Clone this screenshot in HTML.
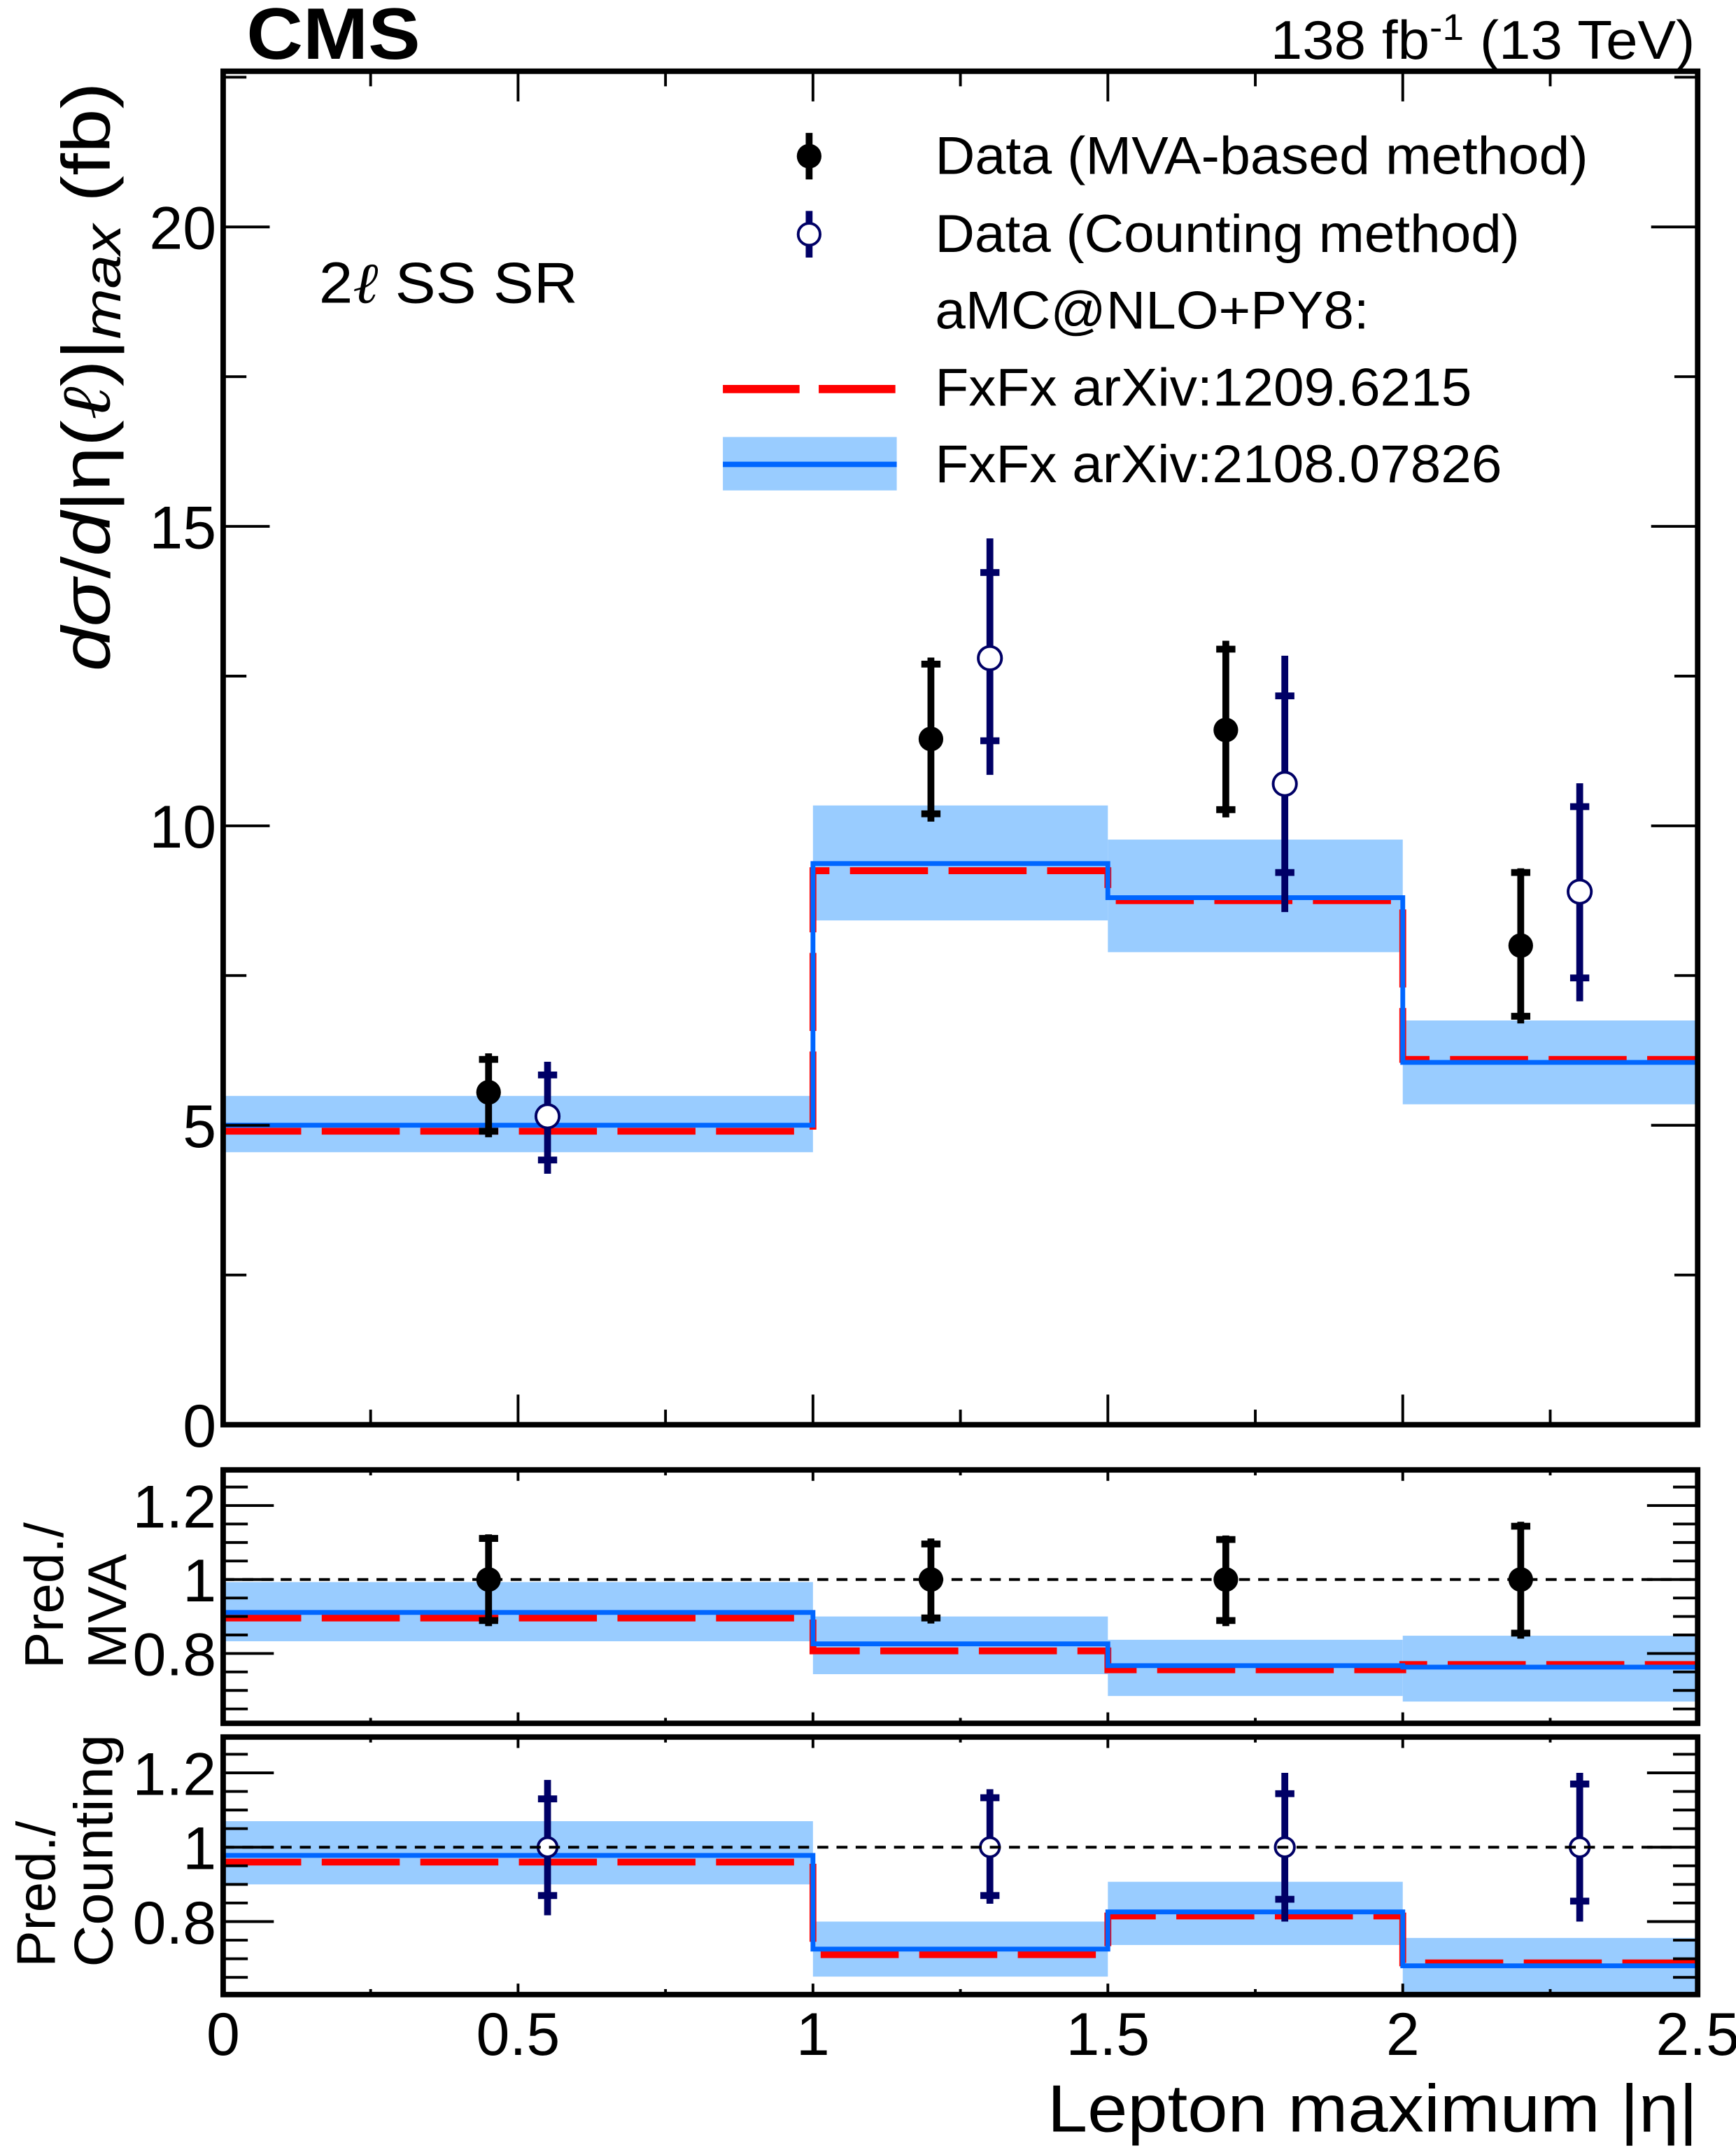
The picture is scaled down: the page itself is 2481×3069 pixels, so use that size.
<!DOCTYPE html>
<html><head><meta charset="utf-8"><style>
html,body{margin:0;padding:0;background:#fff;}
svg{display:block;font-family:"Liberation Sans",Arial,sans-serif;}
</style></head><body>
<svg id="chart" xmlns="http://www.w3.org/2000/svg" width="2481" height="3069" viewBox="0 0 1268 1568" preserveAspectRatio="none">
<g id="bands"></g>
<g id="lines"></g>
<g id="points"></g>
<g id="axes"></g>
<g id="labels">
<text x="180" y="43" font-size="53" font-weight="bold" textLength="127" lengthAdjust="spacingAndGlyphs">CMS</text>
<text x="928" y="43" font-size="40" textLength="310" lengthAdjust="spacingAndGlyphs">138 fb<tspan dy="-14" font-size="27">-1</tspan><tspan dy="14"> (13 TeV)</tspan></text>
<text x="233" y="221" font-size="42" textLength="189" lengthAdjust="spacingAndGlyphs">2<tspan font-family="'DejaVu Serif',serif" font-style="italic">ℓ</tspan> SS SR</text>
<text transform="translate(80,490) rotate(-90)" font-size="50" textLength="430" lengthAdjust="spacingAndGlyphs"><tspan font-style="italic">dσ</tspan>/<tspan font-style="italic">d</tspan>|η(<tspan font-family="'DejaVu Serif',serif" font-style="italic">ℓ</tspan>)|<tspan font-style="italic" font-size="38" dy="8">max</tspan><tspan dy="-8"> (fb)</tspan></text>
<text transform="translate(46,1218) rotate(-90)" font-size="40">Pred./</text>
<text transform="translate(92,1218) rotate(-90)" font-size="40">MVA</text>
<text transform="translate(40,1436) rotate(-90)" font-size="40">Pred./</text>
<text transform="translate(82,1436) rotate(-90)" font-size="40" textLength="170" lengthAdjust="spacingAndGlyphs">Counting</text>
<text x="765" y="1556" font-size="49" textLength="475" lengthAdjust="spacingAndGlyphs">Lepton maximum |η|</text>
</g>
<g id="legend">
<g>
<line x1="591" y1="97" x2="591" y2="131" stroke="#000" stroke-width="5"/><circle cx="591" cy="114" r="9" fill="#000"/>
<text x="683" y="127" font-size="39" textLength="477" lengthAdjust="spacingAndGlyphs">Data (MVA-based method)</text></g>
<g>
<line x1="591" y1="154" x2="591" y2="188" stroke="#000066" stroke-width="5"/><circle cx="591" cy="171" r="8" fill="#fff" stroke="#000066" stroke-width="2"/>
<text x="683" y="184" font-size="39" textLength="427" lengthAdjust="spacingAndGlyphs">Data (Counting method)</text></g>
<text x="683" y="240" font-size="39" textLength="317" lengthAdjust="spacingAndGlyphs">aMC@NLO+PY8:</text>
<g>
<line x1="528" y1="284" x2="655" y2="284" stroke="#ff0000" stroke-width="6" stroke-dasharray="56,14"/>
<text x="683" y="296" font-size="39" textLength="392" lengthAdjust="spacingAndGlyphs">FxFx arXiv:1209.6215</text></g>
<g>
<rect x="528" y="319" width="127" height="39" fill="#99ccff"/><line x1="528" y1="339" x2="655" y2="339" stroke="#0066ff" stroke-width="4"/>
<text x="683" y="352" font-size="39" textLength="414" lengthAdjust="spacingAndGlyphs">FxFx arXiv:2108.07826</text></g>
</g>
</svg>
<script>
// ---- data ----
const binEdges = [0, 1, 1.5, 2, 2.5];
const predBlue = [5.0, 9.37, 8.8, 6.05];
const predRed = [4.9, 9.25, 8.75, 6.1];
const bandLo = [4.55, 8.42, 7.89, 5.35];
const bandHi = [5.49, 10.34, 9.77, 6.75];
const mvaX = [0.45, 1.2, 1.7, 2.2];
const mvaVal = [5.55, 11.45, 11.6, 8.0];
const mvaTotLo = [4.8, 10.07, 10.14, 6.7];
const mvaTotHi = [6.2, 12.81, 13.09, 9.29];
const mvaStatLo = [4.9, 10.2, 10.27, 6.82];
const mvaStatHi = [6.1, 12.7, 12.95, 9.22];
const cntX = [0.55, 1.3, 1.8, 2.3];
const cntVal = [5.15, 12.8, 10.7, 8.9];
const cntTotLo = [4.19, 10.85, 8.56, 7.07];
const cntTotHi = [6.06, 14.8, 12.84, 10.71];
const cntStatLo = [4.42, 11.42, 9.22, 7.46];
const cntStatHi = [5.84, 14.23, 12.17, 10.32];
// ratio MVA
const r1Blue = [0.911, 0.826, 0.767, 0.763];
const r1Red = [0.896, 0.807, 0.756, 0.77];
const r1BandLo = [0.833, 0.744, 0.685, 0.67];
const r1BandHi = [0.993, 0.9, 0.837, 0.848];
const r1Val = [1, 1, 1, 1];
const r1TotLo = [0.874, 0.881, 0.874, 0.84];
const r1TotHi = [1.122, 1.111, 1.119, 1.156];
const r1StatLo = [0.889, 0.896, 0.889, 0.855];
const r1StatHi = [1.111, 1.096, 1.108, 1.144];
// ratio counting
const r2Blue = [0.978, 0.726, 0.826, 0.681];
const r2Red = [0.96, 0.711, 0.815, 0.689];
const r2BandLo = [0.9, 0.652, 0.737, 0.604];
const r2BandHi = [1.07, 0.8, 0.907, 0.756];
const r2Val = [1, 1, 1, 1];
const r2TotLo = [0.817, 0.848, 0.8, 0.8];
const r2TotHi = [1.181, 1.156, 1.2, 1.2];
const r2StatLo = [0.87, 0.87, 0.86, 0.855];
const r2StatHi = [1.13, 1.133, 1.144, 1.17];
const xTickLabels = ["0", "0.5", "1", "1.5", "2", "2.5"];
const yMainTickLabels = ["0", "5", "10", "15", "20"];
const yRatioTickLabels = ["0.8", "1", "1.2"];

const NS = "http://www.w3.org/2000/svg";
const L = 163, R = 1240;
const X = v => L + (R - L) * v / 2.5;
const panels = [
  {top: 52, bot: 1040, min: 0, max: 22.6},
  {top: 1073, bot: 1258, min: 0.6111, max: 1.2963},
  {top: 1268, bot: 1456, min: 0.6037, max: 1.2963}
];
const Yf = p => v => p.bot - (p.bot - p.top) * (v - p.min) / (p.max - p.min);
function mk(parent, tag, attrs) {
  const e = document.createElementNS(NS, tag);
  for (const k in attrs) e.setAttribute(k, attrs[k]);
  document.getElementById(parent).appendChild(e);
  return e;
}
function stepPath(vals, Y) {
  let d = "";
  for (let i = 0; i < vals.length; i++) {
    d += (i === 0 ? "M" : "L") + X(binEdges[i]) + "," + Y(vals[i]) + " L" + X(binEdges[i + 1]) + "," + Y(vals[i]);
  }
  return d;
}
function drawPanel(p, blue, red, bLo, bHi, series) {
  const Y = Yf(p);
  for (let i = 0; i < blue.length; i++) {
    const r = mk("bands", "rect", {x: X(binEdges[i]), y: Y(bHi[i]), width: X(binEdges[i + 1]) - X(binEdges[i]), height: Y(bLo[i]) - Y(bHi[i]), fill: "#99ccff"});
    
    
  }
  const rl = mk("lines", "path", {d: stepPath(red, Y), fill: "none", stroke: "#ff0000", "stroke-width": 5, "stroke-dasharray": "57,15"});
  
  
  const bl = mk("lines", "path", {d: stepPath(blue, Y), fill: "none", stroke: "#0066ff", "stroke-width": 3.5});
  
  
  series.forEach(s => {
    for (let i = 0; i < s.x.length; i++) {
      const g = mk("points", "g", {});
      
      
      const cx = X(s.x[i]);
      const add = (t, a) => { const e = document.createElementNS(NS, t); for (const k in a) e.setAttribute(k, a[k]); g.appendChild(e); };
      add("line", {x1: cx, x2: cx, y1: Y(s.hi[i]), y2: Y(s.lo[i]), stroke: s.col, "stroke-width": 5});
      add("line", {x1: cx - 7, x2: cx + 7, y1: Y(s.shi[i]), y2: Y(s.shi[i]), stroke: s.col, "stroke-width": 5});
      add("line", {x1: cx - 7, x2: cx + 7, y1: Y(s.slo[i]), y2: Y(s.slo[i]), stroke: s.col, "stroke-width": 5});
      if (s.open) add("circle", {cx: cx, cy: Y(s.v[i]), r: s.r, fill: "#fff", stroke: s.col, "stroke-width": 2});
      else add("circle", {cx: cx, cy: Y(s.v[i]), r: s.r, fill: s.col});
    }
  });
}
drawPanel(panels[0], predBlue, predRed, bandLo, bandHi, [
  {name: "mva-point", x: mvaX, v: mvaVal, lo: mvaTotLo, hi: mvaTotHi, slo: mvaStatLo, shi: mvaStatHi, col: "#000", open: false, r: 9},
  {name: "counting-point", x: cntX, v: cntVal, lo: cntTotLo, hi: cntTotHi, slo: cntStatLo, shi: cntStatHi, col: "#000066", open: true, r: 8.5}
]);
drawPanel(panels[1], r1Blue, r1Red, r1BandLo, r1BandHi, [
  {name: "mva-ratio-point", x: mvaX, v: r1Val, lo: r1TotLo, hi: r1TotHi, slo: r1StatLo, shi: r1StatHi, col: "#000", open: false, r: 9}
]);
drawPanel(panels[2], r2Blue, r2Red, r2BandLo, r2BandHi, [
  {name: "counting-ratio-point", x: cntX, v: r2Val, lo: r2TotLo, hi: r2TotHi, slo: r2StatLo, shi: r2StatHi, col: "#000066", open: true, r: 7}
]);

// axes
function tick(x1, y1, x2, y2, w) {
  const t = mk("axes", "line", {x1, y1, x2, y2, stroke: "#000", "stroke-width": w || 2});
  
  
}
function label(x, y, txt, anchor, name) {
  const t = mk("axes", "text", {x, y, "font-size": 44, "text-anchor": anchor});
  t.textContent = txt;
  
  
}
panels.forEach((p, pi) => {
  const Y = Yf(p);
  for (let k = 0; k <= 50; k++) {
    const v = k * 0.05; const x = X(v);
    const major = k % 10 === 0, mid = k % 5 === 0;
    if (!mid) continue;
    const len = pi === 0 ? (major ? 22 : 11) : (major ? 8 : 4);
    tick(x, p.bot, x, p.bot - len); tick(x, p.top, x, p.top + len);
  }
  if (pi === 0) {
    for (let k = 0; k <= 9; k++) {
      const v = k * 2.5, y = Y(v), major = k % 2 === 0;
      const len = major ? 34 : 17;
      tick(L, y, L + len, y); tick(R, y, R - len, y);
    }
    yMainTickLabels.forEach((t, i) => label(L - 5, Y(i * 5) + 16, t, "end", "y-tick-label"));
  } else {
    for (let k = 13; k <= 25; k++) {
      const v = k * 0.05, y = Y(v); if (y < p.top || y > p.bot) continue;
      const major = k % 4 === 0;
      const len = major ? 37 : 18;
      tick(L, y, L + len, y); tick(R, y, R - len, y);
    }
    yRatioTickLabels.forEach((t, i) => label(L - 5, Y(0.8 + i * 0.2) + 16, t, "end", "ratio-y-tick-label"));
    const d = mk("axes", "line", {x1: L, x2: R, y1: Y(1), y2: Y(1), stroke: "#000", "stroke-width": 2, "stroke-dasharray": "8,6"});
    
    
  }
  const f = mk("axes", "rect", {x: L, y: p.top, width: R - L, height: p.bot - p.top, fill: "none", stroke: "#000", "stroke-width": 4});
  
  
});
xTickLabels.forEach((t, i) => label(X(i * 0.5), 1500, t, "middle", "x-tick-label"));
</script>
</body></html>
